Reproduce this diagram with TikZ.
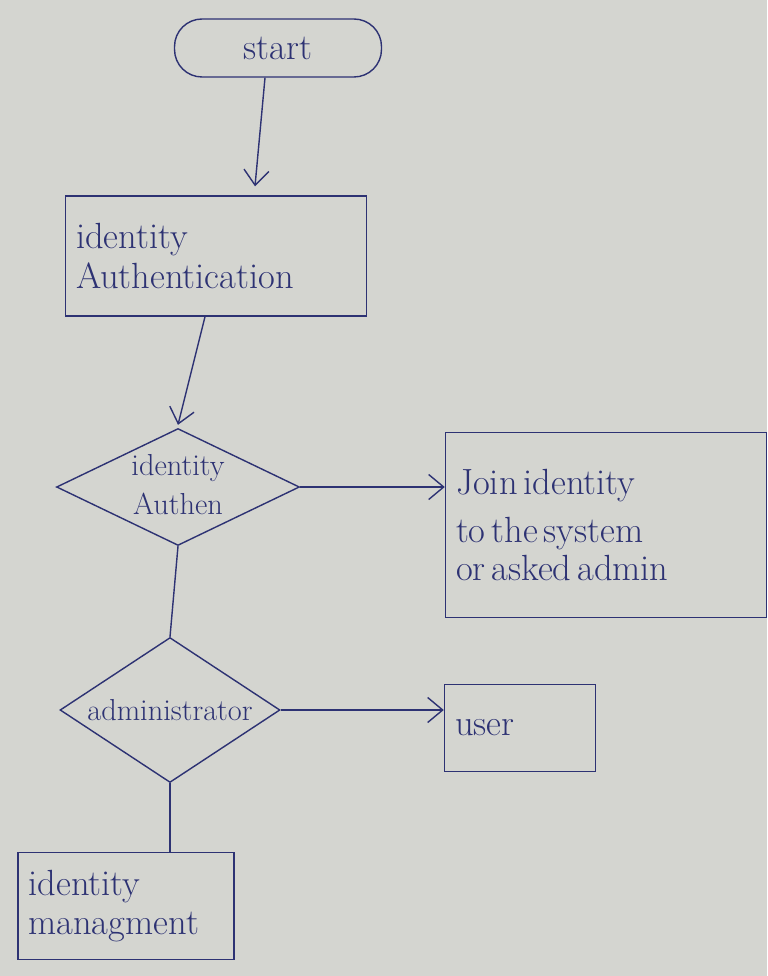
\documentclass[tikz,border=0pt]{standalone}
\usetikzlibrary{shapes.geometric,arrows.meta}
\definecolor{ink}{RGB}{45,50,115}
\definecolor{paper}{RGB}{212,213,208}
\tikzset{
  terminal/.style={draw=ink,thick,text=ink,rounded corners=0.55cm,inner sep=0pt},
  procbox/.style={draw=ink,thick,text=ink,align=left,inner sep=6pt},
  decision/.style={diamond,draw=ink,thick,text=ink,inner sep=0pt,aspect=2},
  flow/.style={draw=ink,thick}
}
\begin{document}
\begin{tikzpicture}[x=0.02cm,y=-0.02cm,>={Straight Barb[length=3mm,width=5mm]}]
\fill[paper] (0,0) rectangle (767,976);
\useasboundingbox (0,0) rectangle (767,976);
\node[terminal,minimum width=4.14cm,minimum height=1.16cm] (start) at (278,48) {\huge start};
\node[procbox,minimum width=5.94cm,minimum height=2.4cm,text width=5.6cm] (auth) at (216,256) {\huge identity\\[3pt]Authentication};
\node[decision,minimum width=4.86cm,minimum height=2.34cm] (d1) at (178,487) {\makebox[0pt]{\LARGE\begin{tabular}{@{}c@{}}identity\\Authen\end{tabular}}};
\node[procbox,minimum width=6.36cm,minimum height=3.7cm,text width=6.0cm] (join) at (606,525) {\huge Join identity\\[2pt]to the system\\[2pt]or asked admin};
\node[decision,minimum width=4.4cm,minimum height=2.9cm] (d2) at (170,710) {\makebox[0pt]{\LARGE administrator}};
\node[procbox,minimum width=3.0cm,minimum height=1.74cm,text width=2.6cm] (user) at (520,728) {\huge user};
\node[procbox,minimum width=4.24cm,minimum height=2.14cm,text width=3.9cm] (mgmt) at (126,906) {\huge identity\\[4pt]managment};
% connectors
\draw[flow,->] ([xshift=-0.26cm]start.south) -- ([xshift=0.78cm,yshift=0.18cm]auth.north);
\draw[flow,->] ([xshift=-0.22cm]auth.south) -- ([yshift=0.06cm]d1.north);
\draw[flow,->] (d1.east) -- (join.west |- d1.east);
\draw[flow] (d1.south) -- (d2.north);
\draw[flow,->] (d2.east) -- (user.west |- d2.east);
\draw[flow] (d2.south) -- (d2.south |- mgmt.north);
\end{tikzpicture}
\end{document}
